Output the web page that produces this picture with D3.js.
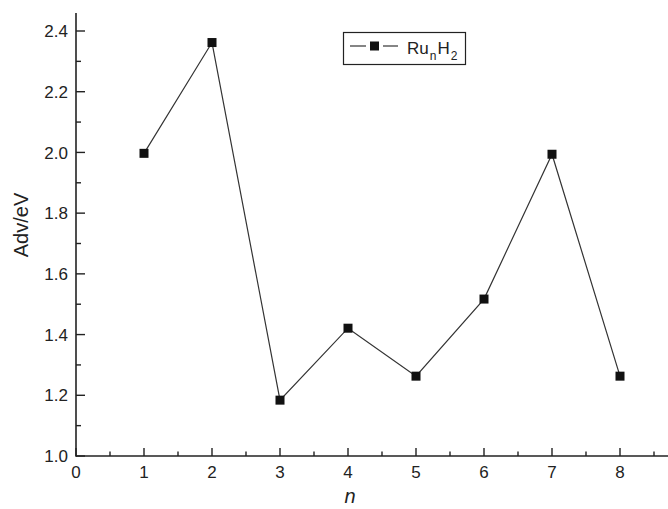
<!DOCTYPE html>
<html><head><meta charset="utf-8">
<script src="https://cdn.jsdelivr.net/npm/d3@7"></script>
<style>body{margin:0;background:#fff}svg{display:block;font-family:"Liberation Sans",Arial,sans-serif}</style>
</head><body><svg id="c" width="668" height="509"></svg>
<script>
const nValues = [1, 2, 3, 4, 5, 6, 7, 8];
const advValues = [1.997, 2.362, 1.184, 1.421, 1.263, 1.517, 1.994, 1.263];
const xTicks = [0, 1, 2, 3, 4, 5, 6, 7, 8];
const yTicks = [1.0, 1.2, 1.4, 1.6, 1.8, 2.0, 2.2, 2.4];
const seriesName = "RunH2";

const svg = d3.select("#c");
const x = d3.scaleLinear().domain([0, 8.8]).range([76, 674.4]);
const y = d3.scaleLinear().domain([1.0, 2.4]).range([456, 31]);
const col = "#222";

// axes
const gx = svg.append("g").attr("transform", "translate(0,456)");
gx.append("line").attr("x1", 76).attr("x2", 668).attr("stroke", col).attr("stroke-width", 1.6);
const xMinor = d3.range(0.5, 8.8, 1);
gx.selectAll(".mj").data(xTicks).join("line").attr("x1", d => x(d)).attr("x2", d => x(d)).attr("y1", 0).attr("y2", -8).attr("stroke", col).attr("stroke-width", 1.4);
gx.selectAll(".mn").data(xMinor).join("line").attr("x1", d => x(d)).attr("x2", d => x(d)).attr("y1", 0).attr("y2", -4.5).attr("stroke", col).attr("stroke-width", 1.4);
gx.selectAll("text").data(xTicks).join("text").attr("x", d => x(d)).attr("y", 22).attr("text-anchor", "middle").attr("font-size", 17).attr("fill", col).text(d => d);

const gy = svg.append("g").attr("transform", "translate(76,0)");
gy.append("line").attr("y1", 13).attr("y2", 456.8).attr("stroke", col).attr("stroke-width", 1.6);
const yMinor = d3.range(1.1, 2.45, 0.2);
gy.selectAll(".mj").data(yTicks).join("line").attr("y1", d => y(d)).attr("y2", d => y(d)).attr("x1", 0).attr("x2", 9).attr("stroke", col).attr("stroke-width", 1.4);
gy.selectAll(".mn").data(yMinor).join("line").attr("y1", d => y(d)).attr("y2", d => y(d)).attr("x1", 0).attr("x2", 5).attr("stroke", col).attr("stroke-width", 1.4);
gy.selectAll("text").data(yTicks).join("text").attr("x", -8).attr("y", d => y(d)).attr("dy", "0.36em").attr("text-anchor", "end").attr("font-size", 17).attr("fill", col).text(d => d.toFixed(1));

// labels
svg.append("text").attr("x", 350).attr("y", 503).attr("text-anchor", "middle").attr("font-size", 20).attr("font-style", "italic").attr("fill", col).text("n");
svg.append("text").attr("transform", "translate(28,225) rotate(-90)").attr("text-anchor", "middle").attr("font-size", 20).attr("fill", col).text("Adv/eV");

// series
const line = d3.line().x((d, i) => x(nValues[i])).y(d => y(d));
svg.append("path").attr("d", line(advValues)).attr("fill", "none").attr("stroke", "#333").attr("stroke-width", 1.2);
svg.selectAll(".pt").data(advValues).join("rect").attr("x", (d, i) => x(nValues[i]) - 4.5).attr("y", d => y(d) - 4.5).attr("width", 9).attr("height", 9).attr("fill", "#111");

// legend
const lg = svg.append("g");
lg.append("rect").attr("x", 343.5).attr("y", 32.5).attr("width", 122).attr("height", 32).attr("fill", "#fff").attr("stroke", col).attr("stroke-width", 1.2);
lg.append("line").attr("x1", 350).attr("x2", 366).attr("y1", 46).attr("y2", 46).attr("stroke", "#333").attr("stroke-width", 1.2);
lg.append("line").attr("x1", 383).attr("x2", 398).attr("y1", 46).attr("y2", 46).attr("stroke", "#333").attr("stroke-width", 1.2);
lg.append("rect").attr("x", 370).attr("y", 41.5).attr("width", 9).attr("height", 9).attr("fill", "#111");
const t = lg.append("text").attr("x", 407).attr("y", 54).attr("font-size", 17).attr("fill", col);
t.append("tspan").text("Ru");
t.append("tspan").attr("font-size", 12).attr("dy", 6).attr("dx", 1).text("n");
t.append("tspan").attr("dy", -6).attr("dx", 1).text("H");
t.append("tspan").attr("font-size", 12).attr("dy", 6).attr("dx", 1).text("2");
</script></body></html>
